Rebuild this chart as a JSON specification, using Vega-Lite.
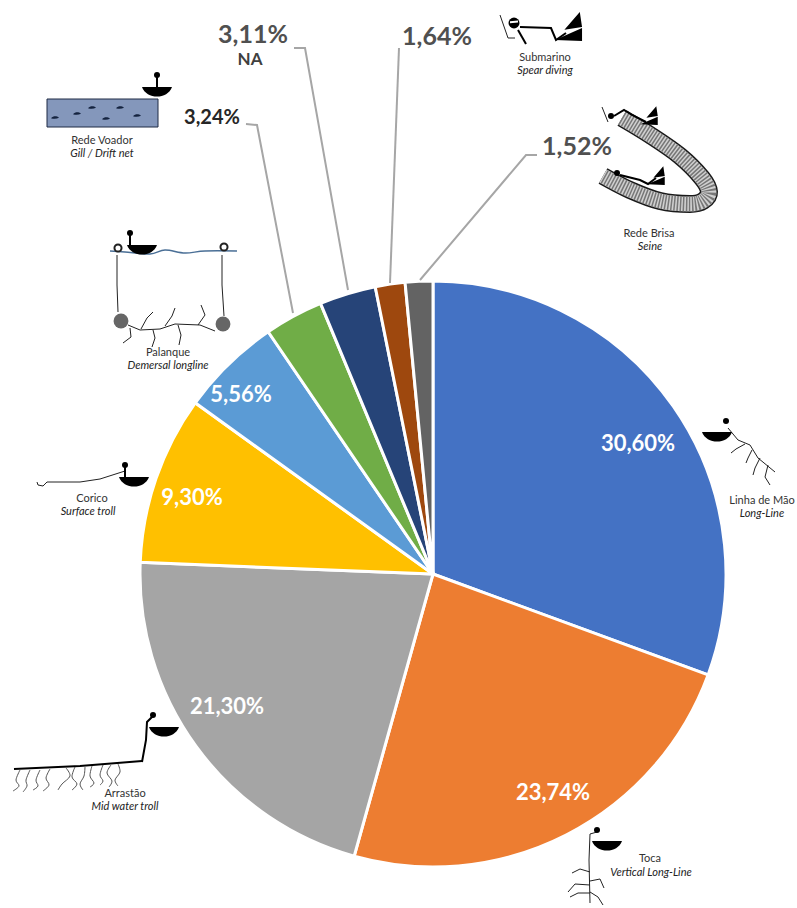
{
"$schema":"https://vega.github.io/schema/vega-lite/v6.json",
"width":584,"height":584,"autosize":{"type":"none"},
"padding":{"left":141,"top":282,"right":72,"bottom":42},
"background":"white",
"config":{"view":{"stroke":null}},
"datasets":{
"slices":[
{"method":"Linha de Mão","pct":30.60,"i":1},{"method":"Toca","pct":23.74,"i":2},{"method":"Arrastão","pct":21.30,"i":3},{"method":"Corico","pct":9.30,"i":4},{"method":"Palanque","pct":5.56,"i":5},{"method":"Rede Voador","pct":3.24,"i":6},{"method":"NA","pct":3.11,"i":7},{"method":"Submarino","pct":1.64,"i":8},{"method":"Rede Brisa","pct":1.52,"i":9}],
"labels":[
{"k":"in","t":"30,60%","x":638,"y":444},{"k":"in","t":"23,74%","x":553,"y":793},{"k":"in","t":"21,30%","x":227,"y":707},{"k":"in","t":"9,30%","x":192,"y":498},{"k":"in","t":"5,56%","x":241,"y":395},
{"k":"big","t":"3,11%","x":253,"y":35},{"k":"big","t":"1,64%","x":437,"y":37},{"k":"big","t":"1,52%","x":577,"y":147},
{"k":"mid","t":"3,24%","x":212,"y":118},{"k":"na","t":"NA","x":250,"y":60},
{"k":"pt","t":"Rede Voador","x":102,"y":141},{"k":"en","t":"Gill / Drift net","x":102,"y":154},
{"k":"pt","t":"Palanque","x":168,"y":353},{"k":"en","t":"Demersal longline","x":168,"y":366},
{"k":"pt","t":"Corico","x":92,"y":499},{"k":"en","t":"Surface troll","x":88,"y":512},
{"k":"pt","t":"Arrastão","x":125,"y":794},{"k":"en","t":"Mid water troll","x":125,"y":807},
{"k":"pt","t":"Toca","x":650,"y":859},{"k":"en","t":"Vertical Long-Line","x":651,"y":873},
{"k":"pt","t":"Linha de Mão","x":762,"y":501},{"k":"en","t":"Long-Line","x":762,"y":514},
{"k":"pt","t":"Rede Brisa","x":649,"y":234},{"k":"en","t":"Seine","x":650,"y":247},
{"k":"pt","t":"Submarino","x":545,"y":58},{"k":"en","t":"Spear diving","x":545,"y":71}],
"leaders":[
{"g":"a","i":0,"x":246,"y":124},{"g":"a","i":1,"x":257,"y":125},{"g":"a","i":2,"x":293,"y":313},
{"g":"b","i":0,"x":294,"y":48},{"g":"b","i":1,"x":305,"y":48},{"g":"b","i":2,"x":348,"y":290},
{"g":"c","i":0,"x":399,"y":48},{"g":"c","i":1,"x":390,"y":283},
{"g":"d","i":0,"x":537,"y":155},{"g":"d","i":1,"x":526,"y":155},{"g":"d","i":2,"x":420,"y":280}],
"band":[
{"i":0,"x":622,"y":118},{"i":1,"x":650,"y":135},{"i":2,"x":680,"y":156},{"i":3,"x":702,"y":178},{"i":4,"x":709,"y":192},{"i":5,"x":703,"y":201},{"i":6,"x":690,"y":204},{"i":7,"x":660,"y":201},{"i":8,"x":630,"y":190},{"i":9,"x":603,"y":176}],
"wiggles":[
{"g":"w1","i":0,"x":20,"y":770},{"g":"w1","i":1,"x":16,"y":780},{"g":"w1","i":2,"x":19,"y":786},{"g":"w1","i":3,"x":13,"y":791},
{"g":"w2","i":0,"x":30,"y":770},{"g":"w2","i":1,"x":26,"y":780},{"g":"w2","i":2,"x":27,"y":786},{"g":"w2","i":3,"x":23,"y":792},
{"g":"w3","i":0,"x":40,"y":770},{"g":"w3","i":1,"x":36,"y":780},{"g":"w3","i":2,"x":38,"y":786},{"g":"w3","i":3,"x":33,"y":790},
{"g":"w4","i":0,"x":50,"y":769},{"g":"w4","i":1,"x":46,"y":778},{"g":"w4","i":2,"x":49,"y":785},{"g":"w4","i":3,"x":43,"y":791},
{"g":"w5","i":0,"x":66,"y":768},{"g":"w5","i":1,"x":70,"y":776},{"g":"w5","i":2,"x":62,"y":784},{"g":"w5","i":3,"x":58,"y":790},
{"g":"w6","i":0,"x":75,"y":767},{"g":"w6","i":1,"x":72,"y":777},{"g":"w6","i":2,"x":77,"y":784},{"g":"w6","i":3,"x":72,"y":790},
{"g":"w7","i":0,"x":85,"y":767},{"g":"w7","i":1,"x":84,"y":776},{"g":"w7","i":2,"x":80,"y":784},{"g":"w7","i":3,"x":83,"y":790},
{"g":"w8","i":0,"x":92,"y":766},{"g":"w8","i":1,"x":90,"y":776},{"g":"w8","i":2,"x":94,"y":783},{"g":"w8","i":3,"x":90,"y":787},
{"g":"w9","i":0,"x":103,"y":765},{"g":"w9","i":1,"x":100,"y":775},{"g":"w9","i":2,"x":103,"y":781},{"g":"w9","i":3,"x":100,"y":785},
{"g":"w10","i":0,"x":111,"y":765},{"g":"w10","i":1,"x":107,"y":773},{"g":"w10","i":2,"x":112,"y":781},{"g":"w10","i":3,"x":109,"y":787},
{"g":"w11","i":0,"x":118,"y":764},{"g":"w11","i":1,"x":120,"y":772},{"g":"w11","i":2,"x":115,"y":780},{"g":"w11","i":3,"x":118,"y":786}],
"thin":[
{"g":"pr1","i":0,"x":117,"y":255},{"g":"pr1","i":1,"x":117,"y":285},{"g":"pr1","i":2,"x":118,"y":312},
{"g":"pr2","i":0,"x":222,"y":255},{"g":"pr2","i":1,"x":222,"y":285},{"g":"pr2","i":2,"x":224,"y":316},
{"g":"pl","i":0,"x":128,"y":325},{"g":"pl","i":1,"x":140,"y":330},{"g":"pl","i":2,"x":160,"y":329},{"g":"pl","i":3,"x":175,"y":324},{"g":"pl","i":4,"x":200,"y":325},{"g":"pl","i":5,"x":215,"y":331},
{"g":"pb1","i":0,"x":141,"y":329},{"g":"pb1","i":1,"x":147,"y":318},{"g":"pb1","i":2,"x":153,"y":312},
{"g":"pb2","i":0,"x":165,"y":326},{"g":"pb2","i":1,"x":172,"y":316},{"g":"pb2","i":2,"x":175,"y":308},
{"g":"pb3","i":0,"x":198,"y":325},{"g":"pb3","i":1,"x":205,"y":315},{"g":"pb3","i":2,"x":201,"y":305},
{"g":"pb4","i":0,"x":130,"y":328},{"g":"pb4","i":1,"x":131,"y":337},{"g":"pb4","i":2,"x":123,"y":343},
{"g":"pb5","i":0,"x":153,"y":330},{"g":"pb5","i":1,"x":155,"y":338},{"g":"pb5","i":2,"x":152,"y":347},
{"g":"pb6","i":0,"x":178,"y":325},{"g":"pb6","i":1,"x":181,"y":335},{"g":"pb6","i":2,"x":179,"y":345},
{"g":"ct","i":0,"x":47,"y":482},{"g":"ct","i":1,"x":80,"y":482},{"g":"ct","i":2,"x":100,"y":479},{"g":"ct","i":3,"x":125,"y":471},
{"g":"ch","i":0,"x":47,"y":482},{"g":"ch","i":1,"x":43,"y":486},{"g":"ch","i":2,"x":38,"y":485},{"g":"ch","i":3,"x":37,"y":482},
{"g":"ll","i":0,"x":728,"y":428},{"g":"ll","i":1,"x":738,"y":440},{"g":"ll","i":2,"x":750,"y":445},{"g":"ll","i":3,"x":758,"y":458},{"g":"ll","i":4,"x":775,"y":472},
{"g":"lb1","i":0,"x":745,"y":444},{"g":"lb1","i":1,"x":736,"y":449},{"g":"lb1","i":2,"x":731,"y":453},
{"g":"lb2","i":0,"x":752,"y":450},{"g":"lb2","i":1,"x":748,"y":458},{"g":"lb2","i":2,"x":746,"y":463},
{"g":"lb3","i":0,"x":760,"y":458},{"g":"lb3","i":1,"x":755,"y":468},{"g":"lb3","i":2,"x":753,"y":475},
{"g":"lb4","i":0,"x":768,"y":465},{"g":"lb4","i":1,"x":765,"y":477},{"g":"lb4","i":2,"x":770,"y":485},
{"g":"tv","i":0,"x":597,"y":832},{"g":"tv","i":1,"x":590,"y":834},{"g":"tv","i":2,"x":589,"y":860},{"g":"tv","i":3,"x":590,"y":903},
{"g":"t1","i":0,"x":590,"y":872},{"g":"t1","i":1,"x":580,"y":869},{"g":"t1","i":2,"x":572,"y":873},
{"g":"t2","i":0,"x":590,"y":881},{"g":"t2","i":1,"x":600,"y":879},{"g":"t2","i":2,"x":604,"y":888},
{"g":"t3","i":0,"x":590,"y":885},{"g":"t3","i":1,"x":575,"y":884},{"g":"t3","i":2,"x":568,"y":892},
{"g":"t4","i":0,"x":590,"y":893},{"g":"t4","i":1,"x":578,"y":893},{"g":"t4","i":2,"x":570,"y":897},
{"g":"t5","i":0,"x":590,"y":892},{"g":"t5","i":1,"x":598,"y":897},{"g":"t5","i":2,"x":603,"y":905},
{"g":"sn1","i":0,"x":602,"y":107},{"g":"sn1","i":1,"x":608,"y":122},
{"g":"sn2","i":0,"x":500,"y":15},{"g":"sn2","i":1,"x":508,"y":38},{"g":"sn2","i":2,"x":515,"y":38}],
"thick":[
{"g":"v","i":0,"x":157,"y":75},{"g":"v","i":1,"x":157,"y":88},
{"g":"p","i":0,"x":130,"y":234},{"g":"p","i":1,"x":130,"y":246},
{"g":"c","i":0,"x":125,"y":466},{"g":"c","i":1,"x":125,"y":478},
{"g":"am","i":0,"x":14,"y":769},{"g":"am","i":1,"x":80,"y":766},{"g":"am","i":2,"x":142,"y":761},
{"g":"ab","i":0,"x":153,"y":716},{"g":"ab","i":1,"x":147,"y":722},{"g":"ab","i":2,"x":146,"y":740},{"g":"ab","i":3,"x":142,"y":762},
{"g":"s","i":0,"x":520,"y":27},{"g":"s","i":1,"x":551,"y":28},{"g":"s","i":2,"x":556,"y":40},{"g":"s","i":3,"x":566,"y":33},
{"g":"sa","i":0,"x":518,"y":30},{"g":"sa","i":1,"x":526,"y":44},
{"g":"d1","i":0,"x":614,"y":116},{"g":"d1","i":1,"x":624,"y":110},{"g":"d1","i":2,"x":632,"y":115},{"g":"d1","i":3,"x":646,"y":122},
{"g":"d2","i":0,"x":620,"y":175},{"g":"d2","i":1,"x":640,"y":180},{"g":"d2","i":2,"x":648,"y":184},{"g":"d2","i":3,"x":656,"y":178}],
"water":[{"i":0,"x":110,"y":251},{"i":1,"x":125,"y":252},{"i":2,"x":150,"y":254},{"i":3,"x":165,"y":250},{"i":4,"x":185,"y":253},{"i":5,"x":205,"y":251},{"i":6,"x":237,"y":251}],
"bowls":[{"m":"Rede Voador","x":157,"y":87},{"m":"Palanque","x":142,"y":245},{"m":"Corico","x":134,"y":477},{"m":"Arrastão","x":164,"y":727},{"m":"Linha de Mão","x":717,"y":432},{"m":"Toca","x":607,"y":841}],
"heads":[{"x":157,"y":75},{"x":130,"y":233},{"x":125,"y":465},{"x":153,"y":715},{"x":726,"y":421},{"x":597,"y":830},{"x":611,"y":116},{"x":617,"y":173}],
"fish":[{"x":92,"y":107},{"x":120,"y":107},{"x":55,"y":117},{"x":77,"y":113},{"x":106,"y":118},{"x":137,"y":115}],
"floats":[{"x":118,"y":248},{"x":224,"y":247}],
"balls":[{"x":121,"y":321},{"x":223,"y":324}],
"net":[{"x":47,"x2":158,"y":99,"y2":127}]
},
"layer":[
{"data":{"name":"slices"},"mark":{"type":"arc","outerRadius":293,"stroke":"white","strokeWidth":3},
"encoding":{"theta":{"field":"pct","type":"quantitative","stack":true},"order":{"field":"i","type":"ordinal"},
"color":{"field":"method","type":"nominal","legend":null,"scale":{"domain":["Linha de Mão","Toca","Arrastão","Corico","Palanque","Rede Voador","NA","Submarino","Rede Brisa"],"range":["#4472c4","#ed7d31","#a5a5a5","#ffc000","#5b9bd5","#70ad47","#264478","#9e480e","#636363"]}}}},
{"encoding":{
"x":{"field":"x","type":"quantitative","axis":null,"scale":{"domain":[141,725],"nice":false,"zero":false}},
"y":{"field":"y","type":"quantitative","axis":null,"scale":{"domain":[866,282],"nice":false,"zero":false}}},
"layer":[
{"data":{"name":"leaders"},"mark":{"type":"line","color":"#a6a6a6","strokeWidth":2},"encoding":{"detail":{"field":"g"},"order":{"field":"i","type":"ordinal"}}},
{"data":{"name":"net"},"mark":{"type":"rect","fill":"#8497bb","stroke":"#1f2a44","strokeWidth":1},"encoding":{"x2":{"field":"x2"},"y2":{"field":"y2"}}},
{"data":{"name":"fish"},"mark":{"type":"point","filled":true,"opacity":1,"color":"#14233f","size":64,"shape":"M-1,.3 C-.4,-.3 .4,-.3 1,.2 C.4,.5 -.4,.5 -1,.3 Z"}},
{"data":{"name":"band"},"mark":{"type":"line","color":"#1a1a1a","strokeWidth":18,"interpolate":"cardinal","strokeCap":"butt"},"encoding":{"order":{"field":"i","type":"ordinal"}}},
{"data":{"name":"band"},"mark":{"type":"line","color":"#d0d0d0","strokeWidth":15,"interpolate":"cardinal","strokeCap":"butt"},"encoding":{"order":{"field":"i","type":"ordinal"}}},
{"data":{"name":"band"},"mark":{"type":"line","color":"#777777","strokeWidth":15,"interpolate":"cardinal","strokeCap":"butt","strokeDash":[1.5,1.5]},"encoding":{"order":{"field":"i","type":"ordinal"}}},
{"data":{"name":"wiggles"},"mark":{"type":"line","color":"#555555","strokeWidth":1,"interpolate":"cardinal"},"encoding":{"detail":{"field":"g"},"order":{"field":"i","type":"ordinal"}}},
{"data":{"name":"thin"},"mark":{"type":"line","color":"#222222","strokeWidth":1},"encoding":{"detail":{"field":"g"},"order":{"field":"i","type":"ordinal"}}},
{"data":{"name":"thick"},"mark":{"type":"line","color":"#000000","strokeWidth":2},"encoding":{"detail":{"field":"g"},"order":{"field":"i","type":"ordinal"}}},
{"data":{"name":"water"},"mark":{"type":"line","color":"#4a6f96","strokeWidth":1.5,"interpolate":"cardinal"},"encoding":{"order":{"field":"i","type":"ordinal"}}},
{"data":{"name":"floats"},"mark":{"type":"point","filled":false,"opacity":1,"color":"#222222","fill":"white","fillOpacity":1,"size":50,"shape":"circle"}},
{"data":{"name":"balls"},"mark":{"type":"point","filled":true,"opacity":1,"color":"#666666","size":220,"shape":"circle"}},
{"data":{"name":"bowls"},"mark":{"type":"point","filled":true,"opacity":1,"color":"#000000","size":900,"shape":"M-1,0 C-.7,.85 .7,.85 1,0 Z"}},
{"data":{"name":"heads"},"mark":{"type":"point","filled":true,"opacity":1,"color":"#000000","size":36,"shape":"circle"}},
{"data":{"values":[{"x":514,"y":23}]},"mark":{"type":"point","filled":true,"opacity":1,"color":"#000000","size":120,"shape":"circle"}},
{"data":{"values":[{"x":514,"y":22}]},"mark":{"type":"point","filled":true,"opacity":1,"color":"#ffffff","size":100,"shape":"M-.8,-.15 L.8,-.3 L.8,.1 L-.8,.25 Z"}},
{"data":{"values":[{"x":570,"y":27}]},"mark":{"type":"point","filled":true,"opacity":1,"color":"#000000","size":784,"shape":"M-.4,.2 L.7,-1.07 L.86,0 Z M-1.07,.93 L.86,.07 L.86,1 Z"}},
{"data":{"values":[{"x":650,"y":116},{"x":657,"y":176}]},"mark":{"type":"point","filled":true,"opacity":1,"color":"#000000","size":324,"shape":"M-.4,.2 L.7,-1.07 L.86,0 Z M-1.07,.93 L.86,.07 L.86,1 Z"}},
{"data":{"name":"labels"},"transform":[{"filter":"datum.k==='in'"}],"mark":{"type":"text","font":"Lato","fontWeight":"bold","fontSize":22,"color":"white","baseline":"middle"},"encoding":{"text":{"field":"t"}}},
{"data":{"name":"labels"},"transform":[{"filter":"datum.k==='big'"}],"mark":{"type":"text","font":"Lato","fontWeight":"bold","fontSize":25,"color":"#505050","baseline":"middle"},"encoding":{"text":{"field":"t"}}},
{"data":{"name":"labels"},"transform":[{"filter":"datum.k==='mid'"}],"mark":{"type":"text","font":"Lato","fontWeight":"bold","fontSize":20,"color":"#262626","baseline":"middle"},"encoding":{"text":{"field":"t"}}},
{"data":{"name":"labels"},"transform":[{"filter":"datum.k==='na'"}],"mark":{"type":"text","font":"Lato","fontWeight":"bold","fontSize":17,"color":"#404040","baseline":"middle"},"encoding":{"text":{"field":"t"}}},
{"data":{"name":"labels"},"transform":[{"filter":"datum.k==='pt'"}],"mark":{"type":"text","font":"Lato","fontSize":11,"color":"#333333","baseline":"middle"},"encoding":{"text":{"field":"t"}}},
{"data":{"name":"labels"},"transform":[{"filter":"datum.k==='en'"}],"mark":{"type":"text","font":"Lato","fontStyle":"italic","fontSize":11,"color":"#222222","baseline":"middle"},"encoding":{"text":{"field":"t"}}}
]}
]}
